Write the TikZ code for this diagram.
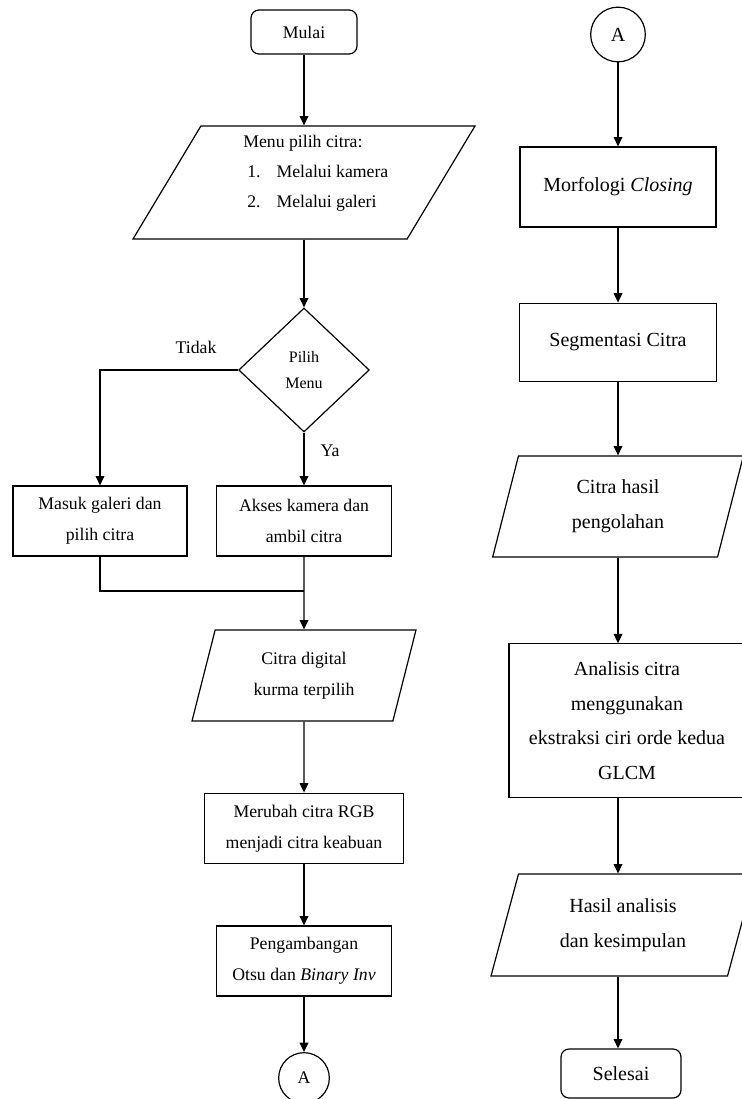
\documentclass[tikz,border=0pt]{standalone}
\usepackage{fontspec}
\setmainfont{Liberation Serif}
\usetikzlibrary{shapes.geometric,arrows.meta}

\begin{document}
\begin{tikzpicture}[x=0.75pt,y=-0.75pt,
        garis/.style={line width=0.9pt},
        kotak/.style={draw,garis,rectangle,align=center,inner sep=2pt},
        terminal/.style={kotak,rounded corners=6pt},
        masukan/.style={draw,garis,trapezium,trapezium stretches body,align=center,inner sep=0pt},
        konektor/.style={draw,garis,circle,inner sep=0pt},
        keputusan/.style={draw,garis,diamond,inner sep=0pt,align=center},
        panah/.style={garis,-{Triangle[length=7pt,width=6.5pt]}},
        kiri/.style={font=\fontsize{13.3}{23.5}\selectfont},
        kanan/.style={font=\fontsize{15}{26}\selectfont}]
        \useasboundingbox (0,0) rectangle (742,1099);
        \clip (0,0) rectangle (742,1099);

        % Kolom kiri
        \node[terminal,kiri,minimum width=79.5pt,minimum height=33pt] (mulai) at (304,32) {Mulai};
        \node[masukan,trapezium left angle=59,trapezium right angle=121,minimum width=256.5pt] (menu) at (304,182.5) {\rule{0pt}{84.75pt}};
        \node[align=left,anchor=west,inner sep=0pt,font=\fontsize{13.3}{22.5}\selectfont] (menuteks) at (243,173)
            {Menu pilih citra:\\\hspace*{3pt}1.\hspace{12pt}Melalui kamera\\\hspace*{3pt}2.\hspace{12pt}Melalui galeri};
        \node[keputusan,minimum width=98pt,minimum height=93pt,font=\fontsize{12}{20}\selectfont] (pilih) at (304,370) {Pilih\\Menu};
        \node[kiri] (tidak) at (196,347) {Tidak};
        \node[kiri] (ya) at (330,451) {Ya};
        \node[kotak,kiri,minimum width=130.5pt,minimum height=52.5pt] (galeri) at (100,521) {Masuk galeri dan\\pilih citra};
        \node[kotak,kiri,minimum width=131pt,minimum height=52.5pt] (kamera) at (304,521) {Akses kamera dan\\ambil citra};
        \coordinate (gabung) at (304,591);
        \node[masukan,kiri,trapezium left angle=64,trapezium right angle=116,minimum width=168pt,minimum height=68.25pt] (digital) at (304,675.5) {Citra digital\\kurma terpilih};
        \node[kotak,kiri,minimum width=149pt,minimum height=53pt] (keabuan) at (304,828.5) {Merubah citra RGB\\menjadi citra keabuan};
        \node[kotak,kiri,minimum width=131pt,minimum height=52.5pt] (otsu) at (304,961) {Pengambangan\\Otsu dan \textit{Binary Inv}};
        \node[konektor,kiri,minimum size=38pt] (a1) at (304,1078) {A};

        \draw[panah] (mulai) -- (menu);
        \draw[panah] (menu) -- (pilih);
        \draw[panah] (pilih.west) -| (galeri.north);
        \draw[panah] (pilih) -- (kamera);
        \draw[garis] (galeri.south) |- (gabung);
        \draw[panah] (kamera.south) -- (digital);
        \draw[panah] (digital) -- (keabuan);
        \draw[panah] (keabuan) -- (otsu);
        \draw[panah] (otsu) -- (a1);

        % Kolom kanan
        \node[konektor,kanan,minimum size=41pt] (a2) at (618,34.5) {A};
        \node[kotak,kanan,minimum width=147pt,minimum height=60pt] (closing) at (618,187) {Morfologi \textit{Closing}};
        \node[kotak,kanan,minimum width=148pt,minimum height=59pt] (segmen) at (618,342.5) {Segmentasi Citra};
        \node[masukan,kanan,trapezium left angle=64,trapezium right angle=116,minimum width=188pt,minimum height=75.75pt] (olahan) at (618,506.5) {Citra hasil\\pengolahan};
        \node[kotak,kanan,minimum width=177pt,minimum height=115pt] (glcm) at (627,720.5) {Analisis citra\\menggunakan\\ekstraksi ciri orde kedua\\GLCM};
        \node[masukan,kanan,trapezium left angle=62.5,trapezium right angle=117.5,minimum width=198pt,minimum height=76.5pt] (simpulan) at (623,925) {Hasil analisis\\dan kesimpulan};
        \node[terminal,kanan,minimum width=90pt,minimum height=36.75pt] (selesai) at (621,1073.5) {Selesai};

        \draw[panah] (a2) -- (closing);
        \draw[panah] (closing) -- (segmen);
        \draw[panah] (segmen) -- (olahan);
        \draw[panah] (olahan.south) -- (olahan.south |- glcm.north);
        \draw[panah] (glcm.south -| olahan) -- (simpulan.north -| olahan);
        \draw[panah] (simpulan.south -| olahan) -- (selesai.north -| olahan);
\end{tikzpicture}
\end{document}
